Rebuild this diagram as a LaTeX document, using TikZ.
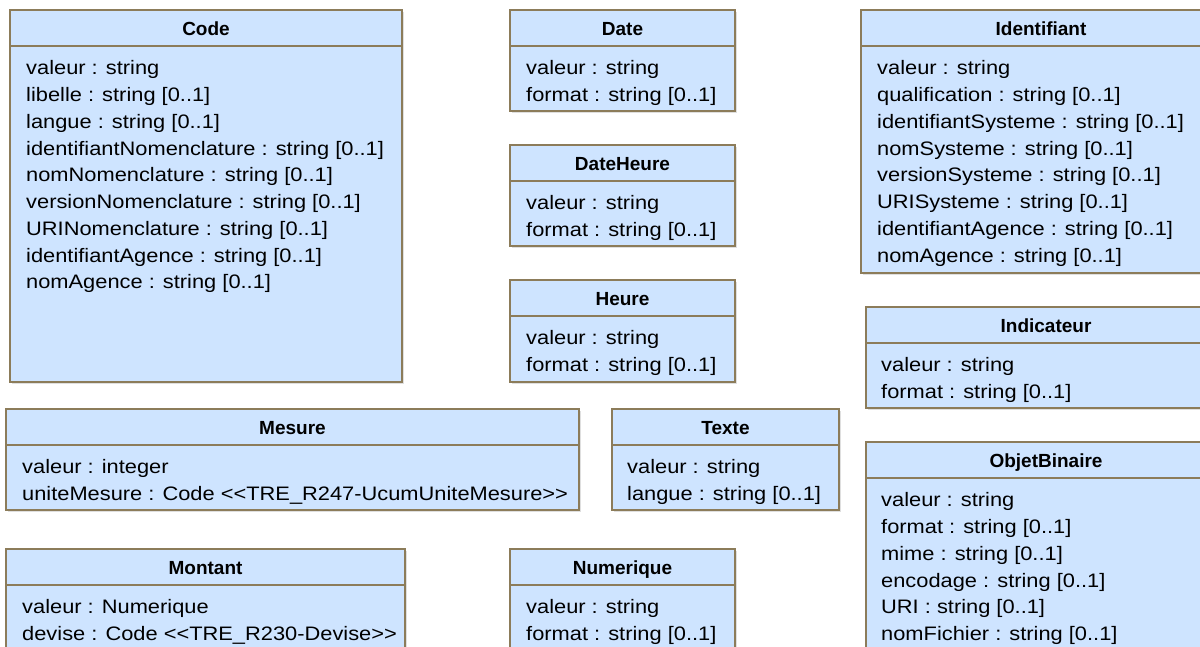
\documentclass[tikz,border=0pt]{standalone}
\usepackage{fontspec}
\setmainfont{Liberation Sans}
\newfontfamily\attrfont[FakeStretch=1.12]{Liberation Sans}
\usetikzlibrary{shadows}
\usetikzlibrary{calc}

\definecolor{classfill}{RGB}{206,228,255}
\definecolor{classline}{RGB}{140,124,90}

\tikzset{
  classhead/.style={draw=classline, fill=classfill, line width=1.3pt, rectangle, anchor=north west,
    minimum height=36pt, inner sep=0pt, outer sep=0pt, text height=14pt, text depth=0pt,
    font=\bfseries\fontsize{19}{23}\selectfont,
    drop shadow={shadow xshift=2pt, shadow yshift=-2pt, opacity=0.25}},
  classbody/.style={draw=classline, fill=classfill, line width=1.3pt, rectangle, anchor=north west,
    inner sep=0pt, outer sep=0pt,
    drop shadow={shadow xshift=2pt, shadow yshift=-2pt, opacity=0.25}},
  attrs/.style={anchor=north west, align=left, inner sep=0pt,
    font=\attrfont\fontsize{19.5}{26.75}\selectfont, execute at begin node={\rule{0pt}{16pt}}}
}

\begin{document}
\begin{tikzpicture}[x=1pt, y=-1pt]
      \path[use as bounding box] (0,0) rectangle (1200,646);
      \clip (0,0) rectangle (1200,646);

      \begin{scope}
        \node[classhead, minimum width=392pt] (code) at (10,10) {Code};
        \node[classbody, minimum width=392pt, minimum height=336pt] (codebody) at (code.south west) {};
        \node[attrs] (codeattrs) at ($(codebody.north west)+(16,14.5)$) {valeur : string\\
          libelle : string [0..1]\\ langue : string [0..1]\\
          identifiantNomenclature : string [0..1]\\ nomNomenclature : string [0..1]\\
          versionNomenclature : string [0..1]\\ URINomenclature : string [0..1]\\
          identifiantAgence : string [0..1]\\ nomAgence : string [0..1]};

        \node[classhead, minimum width=225pt] (date) at (510,10) {Date};
        \node[classbody, minimum width=225pt, minimum height=65pt] (datebody) at (date.south west) {};
        \node[attrs] (dateattrs) at ($(datebody.north west)+(16,14.5)$) {valeur : string\\ format : string [0..1]};

        \node[classhead, minimum width=225pt] (dateheure) at (510,145) {DateHeure};
        \node[classbody, minimum width=225pt, minimum height=65pt] (dateheurebody) at (dateheure.south west) {};
        \node[attrs] (dateheureattrs) at ($(dateheurebody.north west)+(16,14.5)$) {valeur : string\\ format : string [0..1]};

        \node[classhead, minimum width=225pt] (heure) at (510,280) {Heure};
        \node[classbody, minimum width=225pt, minimum height=66pt] (heurebody) at (heure.south west) {};
        \node[attrs] (heureattrs) at ($(heurebody.north west)+(16,14.5)$) {valeur : string\\ format : string [0..1]};

        \node[classhead, minimum width=360pt] (ident) at (861,10) {Identifiant};
        \node[classbody, minimum width=360pt, minimum height=227pt] (identbody) at (ident.south west) {};
        \node[attrs] (identattrs) at ($(identbody.north west)+(16,14.5)$) {valeur : string\\
          qualification : string [0..1]\\ identifiantSysteme : string [0..1]\\
          nomSysteme : string [0..1]\\ versionSysteme : string [0..1]\\
          URISysteme : string [0..1]\\ identifiantAgence : string [0..1]\\
          nomAgence : string [0..1]};

        \node[classhead, minimum width=360pt] (indic) at (866,307) {Indicateur};
        \node[classbody, minimum width=360pt, minimum height=65pt] (indicbody) at (indic.south west) {};
        \node[attrs] (indicattrs) at ($(indicbody.north west)+(15,14.5)$) {valeur : string\\ format : string [0..1]};

        \node[classhead, minimum width=573pt] (mesure) at (6,409) {Mesure};
        \node[classbody, minimum width=573pt, minimum height=65pt] (mesurebody) at (mesure.south west) {};
        \node[attrs] (mesureattrs) at ($(mesurebody.north west)+(16,14.5)$) {valeur : integer\\
          uniteMesure : Code <{}<TRE\_R247-UcumUniteMesure>{}>};

        \node[classhead, minimum width=227pt] (texte) at (612,409) {Texte};
        \node[classbody, minimum width=227pt, minimum height=65pt] (textebody) at (texte.south west) {};
        \node[attrs] (texteattrs) at ($(textebody.north west)+(15,14.5)$) {valeur : string\\ langue : string [0..1]};

        \node[classhead, minimum width=399pt] (montant) at (6,549) {Montant};
        \node[classbody, minimum width=399pt, minimum height=120pt] (montantbody) at (montant.south west) {};
        \node[attrs] (montantattrs) at ($(montantbody.north west)+(16,14.5)$) {valeur : Numerique\\
          devise : Code <{}<TRE\_R230-Devise>{}>};

        \node[classhead, minimum width=225pt] (numerique) at (510,549) {Numerique};
        \node[classbody, minimum width=225pt, minimum height=120pt] (numeriquebody) at (numerique.south west) {};
        \node[attrs] (numeriqueattrs) at ($(numeriquebody.north west)+(16,14.5)$) {valeur : string\\ format : string [0..1]};

        \node[classhead, minimum width=360pt] (objet) at (866,442) {ObjetBinaire};
        \node[classbody, minimum width=360pt, minimum height=250pt] (objetbody) at (objet.south west) {};
        \node[attrs] (objetattrs) at ($(objetbody.north west)+(15,14.5)$) {valeur : string\\
          format : string [0..1]\\ mime : string [0..1]\\ encodage : string [0..1]\\
          URI : string [0..1]\\ nomFichier : string [0..1]};
      \end{scope}
    \end{tikzpicture}
\end{document}
